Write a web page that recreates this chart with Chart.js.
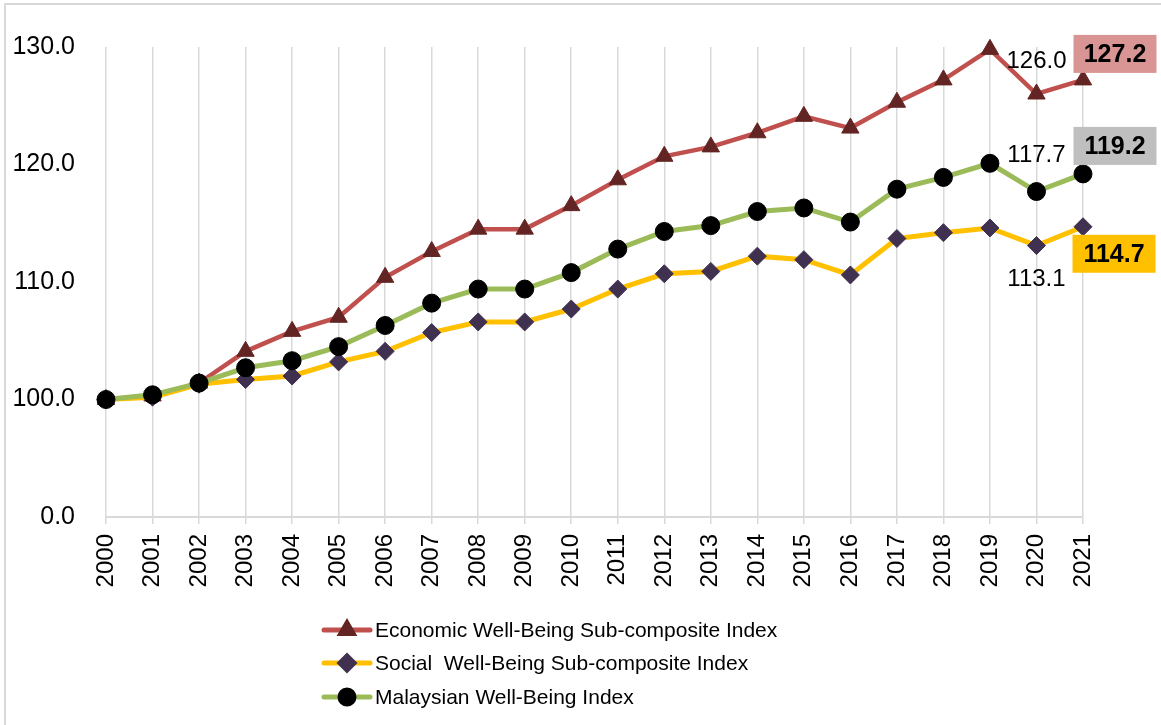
<!DOCTYPE html>
<html>
<head>
<meta charset="utf-8">
<script src="https://cdn.jsdelivr.net/npm/chart.js@4"></script>
<style>
    body { margin: 0; background: #fff; }
    #wrap { position: relative; width: 1161px; height: 725px; }
    #frame { position: absolute; left: 4px; top: 3px; right: 0; bottom: 0;
             border-left: 2px solid #D9D9D9; border-top: 2px solid #D9D9D9; }
    #chart { position: absolute; left: 0; top: 0; }
</style>
</head>
<body>
<div id="wrap">
    <div id="frame"></div>
    <canvas id="chart" width="1161" height="725"></canvas>
</div>
<script>
// Malaysian Well-Being Index, 2000 = 100
const years = ['2000', '2001', '2002', '2003', '2004', '2005', '2006', '2007', '2008', '2009', '2010',
               '2011', '2012', '2013', '2014', '2015', '2016', '2017', '2018', '2019', '2020', '2021'];
const economic = [100.0, 100.3, 101.4, 104.1, 105.8, 107.0, 110.4, 112.6, 114.5, 114.5, 116.5,
                  118.7, 120.7, 121.5, 122.7, 124.1, 123.1, 125.3, 127.2, 129.8, 126.0, 127.2];
const social = [100.0, 100.2, 101.3, 101.7, 102.0, 103.2, 104.1, 105.7, 106.6, 106.6, 107.7,
                109.4, 110.7, 110.9, 112.2, 111.9, 110.6, 113.7, 114.2, 114.6, 113.1, 114.7];
const mwi = [100.0, 100.4, 101.4, 102.7, 103.3, 104.5, 106.3, 108.2, 109.4, 109.4, 110.8,
             112.8, 114.3, 114.8, 116.0, 116.3, 115.1, 117.9, 118.9, 120.1, 117.7, 119.2];
const seriesNames = ['Economic Well-Being Sub-composite Index', 'Social  Well-Being Sub-composite Index', 'Malaysian Well-Being Index'];
// the axis is broken: its lowest tick stands for 0
const yTicks = [90, 100, 110, 120, 130];

const FONT = "'Liberation Sans', Arial, sans-serif";

// labels on the last two points: plain one above/below 2020, boxed one beside 2021
const callouts = [
    { plainDy: -33, boxDx: 32, boxDy: -26, boxFill: '#D99594' },
    { plainDy: 34, boxDx: 31, boxDy: 27, boxFill: '#FFC000' },
    { plainDy: -36, boxDx: 32, boxDy: -28, boxFill: '#BFBFBF' }
];

const endLabels = {
    id: 'endLabels',
    afterDatasetsDraw(chart) {
        const ctx = chart.ctx;
        ctx.save();
        ctx.textAlign = 'center';
        ctx.textBaseline = 'middle';
        chart.data.datasets.forEach((ds, i) => {
            const pts = chart.getDatasetMeta(i).data;
            const c = callouts[i];
            const p20 = pts[20], p21 = pts[21];
            ctx.fillStyle = '#000';
            ctx.font = '24px ' + FONT;
            ctx.fillText(ds.data[20].toFixed(1), p20.x, p20.y + c.plainDy);
            const bx = p21.x + c.boxDx, by = p21.y + c.boxDy;
            ctx.fillStyle = c.boxFill;
            ctx.fillRect(bx - 41.5, by - 19, 83, 38);
            ctx.fillStyle = '#000';
            ctx.font = 'bold 25px ' + FONT;
            ctx.fillText(ds.data[21].toFixed(1), bx, by + 1);
        });
        ctx.restore();
    }
};

// vertical legend under the axis, line with marker like the spreadsheet
const stackedLegend = {
    id: 'stackedLegend',
    afterDraw(chart) {
        const ctx = chart.ctx;
        const rows = [630, 663, 697];
        ctx.save();
        chart.data.datasets.forEach((ds, i) => {
            const y = rows[i];
            ctx.strokeStyle = ds.borderColor;
            ctx.lineWidth = 5;
            ctx.lineCap = 'round';
            ctx.beginPath();
            ctx.moveTo(324, y);
            ctx.lineTo(370, y);
            ctx.stroke();
            ctx.fillStyle = ds.pointBackgroundColor;
            ctx.strokeStyle = ds.pointBorderColor;
            Chart.helpers.drawPoint(ctx, { pointStyle: ds.pointStyle, radius: 7, rotation: 0, borderWidth: 1 }, 347, y);
            ctx.fillStyle = '#000';
            ctx.font = '21px ' + FONT;
            ctx.textAlign = 'left';
            ctx.textBaseline = 'middle';
            ctx.fillText(seriesNames[i], 375, y + 1);
        });
        ctx.restore();
    }
};

new Chart(document.getElementById('chart').getContext('2d'), {
    type: 'line',
    data: {
        labels: years,
        datasets: [
            {
                label: seriesNames[0], data: economic, order: 2, clip: false,
                borderColor: '#C0504D', borderWidth: 4.5,
                pointStyle: 'triangle', pointRadius: 10,
                pointBackgroundColor: '#632523', pointBorderColor: '#632523', pointBorderWidth: 1
            },
            {
                label: seriesNames[1], data: social, order: 1, clip: false,
                borderColor: '#FFC000', borderWidth: 5,
                pointStyle: 'rectRot', pointRadius: 9,
                pointBackgroundColor: '#403151', pointBorderColor: '#403151', pointBorderWidth: 1
            },
            {
                label: seriesNames[2], data: mwi, order: 0, clip: false,
                borderColor: '#9BBB59', borderWidth: 5,
                pointStyle: 'circle', pointRadius: 9,
                pointBackgroundColor: '#000000', pointBorderColor: '#000000', pointBorderWidth: 1
            }
        ]
    },
    options: {
        responsive: false,
        animation: false,
        layout: { padding: { top: 47, right: 78, bottom: 118, left: 0 } },
        plugins: {
            legend: { display: false },
            tooltip: { enabled: false }
        },
        scales: {
            x: {
                grid: { color: '#D9D9D9', lineWidth: 1.5, tickLength: 7 },
                border: { color: '#D9D9D9', width: 2 },
                ticks: {
                    minRotation: 90, maxRotation: 90, padding: 10, color: '#000',
                    font: { family: FONT, size: 24 }
                },
                afterFit: s => { s.height = 90; }
            },
            y: {
                min: 90, max: 130,
                afterBuildTicks: s => { s.ticks = yTicks.map(v => ({ value: v })); },
                grid: { display: false, drawTicks: false },
                border: { display: false },
                ticks: {
                    padding: 31, color: '#000',
                    font: { family: FONT, size: 25 },
                    callback: v => v === 90 ? '0.0' : v.toFixed(1)
                },
                afterFit: s => { s.width = 106; }
            }
        }
    },
    plugins: [endLabels, stackedLegend]
});
</script>
</body>
</html>
